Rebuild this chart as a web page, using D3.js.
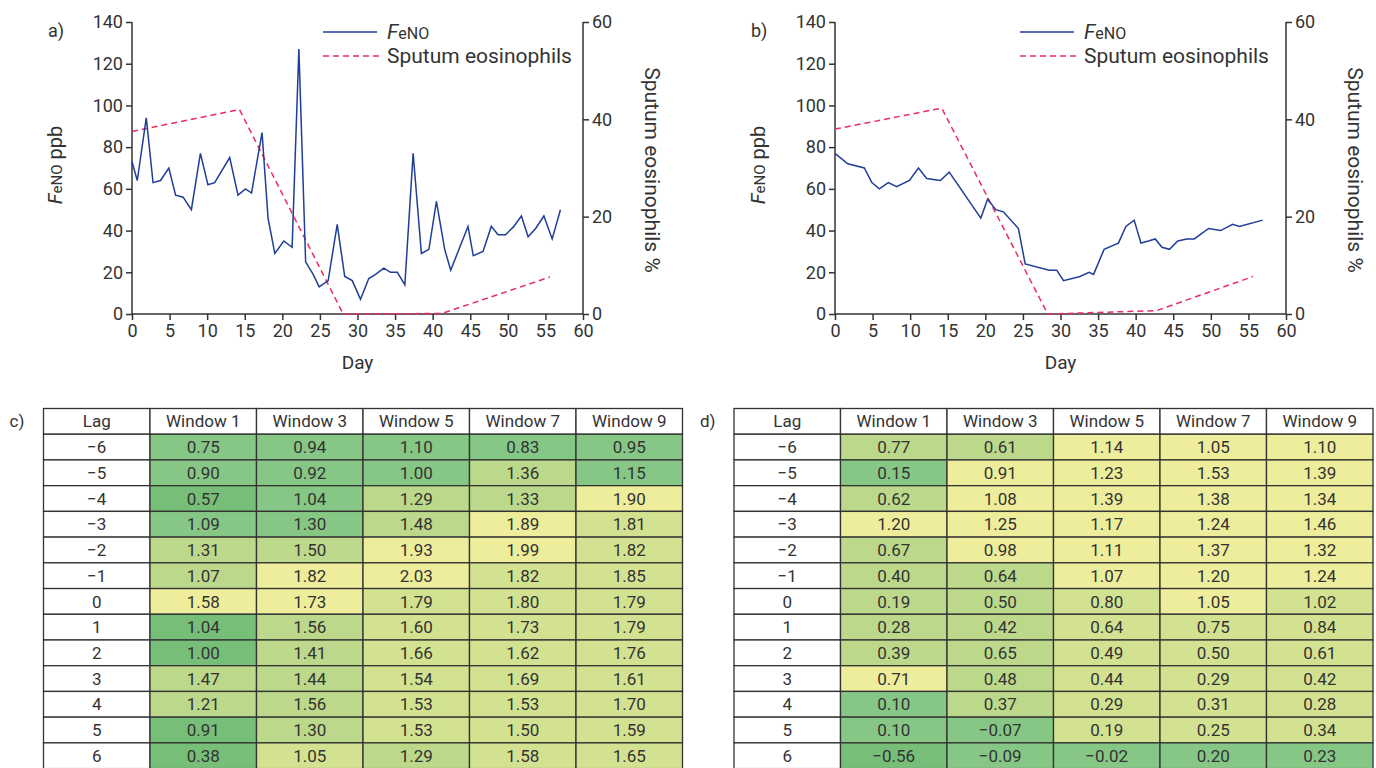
<!DOCTYPE html>
<html lang="en">
<head>
  <meta charset="utf-8">
  <title>FeNO and sputum eosinophils</title>
  <script src="https://cdn.jsdelivr.net/npm/d3@7"></script>
  <style>
    body { margin: 0; background: #fff; }
    text { font-family: Roboto, "Noto Sans", sans-serif; fill: #333; }
  </style>
</head>
<body>
  <svg class="chart" width="1376" height="768"></svg>
  <script>
    // panel a
    var dayA = [0, 0.7, 1.9, 2.8, 3.8, 4.9, 5.8, 6.8, 7.9, 9.1, 10.1, 11, 13, 14.1, 15.1, 15.9, 17.3, 18.1, 19, 20.2,
                21.3, 22.2, 23.1, 24.1, 24.9, 26.1, 27.3, 28.3, 29.3, 30.4, 31.5, 32.4, 33.5, 34.4, 35.3, 36.3, 37.4,
                38.5, 39.5, 40.5, 41.6, 42.4, 44.7, 45.4, 46.7, 47.8, 48.7, 49.7, 50.8, 51.8, 52.7, 53.7, 54.8, 55.9, 57];
    var fenoA = [73, 64, 94, 63, 64, 70, 57, 56, 50, 77, 62, 63, 75, 57, 60, 58, 87, 46, 29, 35,
                 32, 127, 25, 19, 13, 16, 43, 18, 16, 7, 17, 19, 22, 20, 20, 14, 77,
                 29, 31, 54, 31, 21, 42, 28, 30, 42, 38, 38, 42, 47, 37, 41, 47, 36, 50];
    var eosDayA = [0, 14.3, 28.1, 41.2, 55.6];
    var eosA = [37.5, 42, 0, 0.1, 7.6];

    // panel b
    var dayB = [0, 1.7, 3.9, 4.9, 5.9, 7.1, 8.2, 9.9, 11.1, 12.2, 14, 15.2, 19.4, 20.3, 21.4, 22.4, 24.4, 25.3,
                28.5, 29.5, 30.4, 32.6, 33.8, 34.4, 35.8, 37.7, 38.7, 39.8, 40.7, 41.7, 42.6, 43.5, 44.5, 45.6,
                46.8, 47.8, 49.7, 51.3, 52.9, 53.8, 56.9];
    var fenoB = [77, 72, 70, 63, 60, 63, 61, 64, 70, 65, 64, 68, 46, 55, 50, 49, 41, 24,
                 21, 21, 16, 18, 20, 19, 31, 34, 42, 45, 34, 35, 36, 32, 31, 35,
                 36, 36, 41, 40, 43, 42, 45];
    var eosDayB = [0, 14.2, 28.3, 42.8, 55.6];
    var eosB = [38, 42.3, 0, 0.7, 7.7];

    var xTicks = [0, 5, 10, 15, 20, 25, 30, 35, 40, 45, 50, 55, 60];
    var leftTicks = [0, 20, 40, 60, 80, 100, 120, 140];
    var rightTicks = [0, 20, 40, 60];

    // tables c and d
    var lags = ["\u22126", "\u22125", "\u22124", "\u22123", "\u22122", "\u22121", "0", "1", "2", "3", "4", "5", "6"];
    var windows = ["Window 1", "Window 3", "Window 5", "Window 7", "Window 9"];
    var tableC = [
      ["0.75", "0.94", "1.10", "0.83", "0.95"],
      ["0.90", "0.92", "1.00", "1.36", "1.15"],
      ["0.57", "1.04", "1.29", "1.33", "1.90"],
      ["1.09", "1.30", "1.48", "1.89", "1.81"],
      ["1.31", "1.50", "1.93", "1.99", "1.82"],
      ["1.07", "1.82", "2.03", "1.82", "1.85"],
      ["1.58", "1.73", "1.79", "1.80", "1.79"],
      ["1.04", "1.56", "1.60", "1.73", "1.79"],
      ["1.00", "1.41", "1.66", "1.62", "1.76"],
      ["1.47", "1.44", "1.54", "1.69", "1.61"],
      ["1.21", "1.56", "1.53", "1.53", "1.70"],
      ["0.91", "1.30", "1.53", "1.50", "1.59"],
      ["0.38", "1.05", "1.29", "1.58", "1.65"]];
    var shadeC = ["BBBBB", "BBBCB", "ABCCE", "BBCED", "CCEED", "CEEDD", "EEDDD",
                  "ACDDD", "ACDDD", "CCDDD", "CCDDD", "ACDDD", "ADCDD"];
    var tableD = [
      ["0.77", "0.61", "1.14", "1.05", "1.10"],
      ["0.15", "0.91", "1.23", "1.53", "1.39"],
      ["0.62", "1.08", "1.39", "1.38", "1.34"],
      ["1.20", "1.25", "1.17", "1.24", "1.46"],
      ["0.67", "0.98", "1.11", "1.37", "1.32"],
      ["0.40", "0.64", "1.07", "1.20", "1.24"],
      ["0.19", "0.50", "0.80", "1.05", "1.02"],
      ["0.28", "0.42", "0.64", "0.75", "0.84"],
      ["0.39", "0.65", "0.49", "0.50", "0.61"],
      ["0.71", "0.48", "0.44", "0.29", "0.42"],
      ["0.10", "0.37", "0.29", "0.31", "0.28"],
      ["0.10", "\u22120.07", "0.19", "0.25", "0.34"],
      ["\u22120.56", "\u22120.09", "\u22120.02", "0.20", "0.23"]];
    var shadeD = ["CCEEE", "BEEEE", "CEEEE", "EEEEE", "CEEEE", "CCEEE", "CCDED",
                  "CCDDD", "CCDDD", "ECDDD", "BCDDD", "BBDDD", "ABBBB"];

    var svg = d3.select("svg.chart");
    var ink = "#333";

    var shade = d3.scaleOrdinal()
                  .domain(["A", "B", "C", "D", "E"])
                  .range(["#77bf79", "#86c786", "#bcd98b", "#d3e291", "#eeed9b"]);

    function fenoText(sel, small) {
      sel.append("tspan").attr("font-style", "italic").text("F");
      sel.append("tspan").attr("font-size", small).text("eNO");
      return sel;
    }

    function drawPanel(left, label, days, feno, eosDays, eos, legendOffset) {
      var top = 22, bottom = 314, width = 451;
      var x = d3.scaleLinear().domain([0, 60]).range([left, left + width]);
      var y = d3.scaleLinear().domain([0, 140]).range([bottom, top]);
      var y2 = d3.scaleLinear().domain([0, 60]).range([bottom, top]);
      var g = svg.append("g");

      var ax = g.append("g").attr("transform", "translate(0," + bottom + ")")
                .call(d3.axisBottom(x).tickValues(xTicks).tickSize(6).tickPadding(4));
      var al = g.append("g").attr("transform", "translate(" + left + ",0)")
                .call(d3.axisLeft(y).tickValues(leftTicks).tickSize(6).tickPadding(3));
      var ar = g.append("g").attr("transform", "translate(" + (left + width) + ",0)")
                .call(d3.axisRight(y2).tickValues(rightTicks).tickSize(6).tickPadding(3));
      [ax, al, ar].forEach(function(a) {
        a.selectAll("path, line").attr("stroke", ink).attr("stroke-width", 1.5);
        a.selectAll("text").attr("font-size", "18px").attr("fill", ink).style("font-family", "Roboto, sans-serif");
        a.select(".domain").attr("d", a === ax ? "M" + left + ",0H" + (left + width)
                                     : "M0," + bottom + "V" + top);
      });

      g.append("text").attr("x", x(30)).attr("y", 369).attr("text-anchor", "middle")
       .attr("font-size", "19px").text("Day");
      var yl = g.append("text").attr("font-size", "20px").attr("text-anchor", "middle")
       .attr("transform", "translate(" + (left - 70) + ",165) rotate(-90)");
      fenoText(yl, "15px").append("tspan").text(" ppb");
      g.append("text").attr("font-size", "21px").attr("text-anchor", "middle")
       .attr("transform", "translate(" + (left + width + 62) + ",170) rotate(90)")
       .text("Sputum eosinophils %");
      g.append("text").attr("x", left - 84).attr("y", 37).attr("font-size", "18px").text(label);

      var feLine = d3.line().x(function(d, i) { return x(days[i]); }).y(function(d) { return y(d); });
      var eoLine = d3.line().x(function(d, i) { return x(eosDays[i]); }).y(function(d) { return y2(d); });

      g.append("path").datum(eos).attr("d", eoLine).attr("fill", "none")
       .attr("stroke", "#ea2c63").attr("stroke-width", 1.5).attr("stroke-dasharray", "6,4");
      g.append("path").datum(feno).attr("d", feLine).attr("fill", "none")
       .attr("stroke", "#1f3e98").attr("stroke-width", 1.5);

      // legend
      var lx = left + legendOffset;
      g.append("line").attr("x1", lx).attr("x2", lx + 54).attr("y1", 32).attr("y2", 32)
       .attr("stroke", "#1f3e98").attr("stroke-width", 1.5);
      g.append("line").attr("x1", lx).attr("x2", lx + 57).attr("y1", 56).attr("y2", 56)
       .attr("stroke", "#ea2c63").attr("stroke-width", 1.5).attr("stroke-dasharray", "6,4");
      fenoText(g.append("text").attr("x", lx + 64).attr("y", 39).attr("font-size", "21px"), "16px");
      g.append("text").attr("x", lx + 64).attr("y", 63).attr("font-size", "21px").text("Sputum eosinophils");
    }

    drawPanel(132, "a)", dayA, fenoA, eosDayA, eosA, 191);
    drawPanel(835, "b)", dayB, fenoB, eosDayB, eosB, 185);

    function drawTable(left, right, label, values, shades) {
      var cols = ["Lag"].concat(windows);
      var rows = ["head"].concat(lags);
      var x = d3.scaleBand().domain(cols).range([left, right]);
      var y = d3.scaleBand().domain(rows).range([408.5, 408.5 + 26 + 13 * 25.7]);
      var g = svg.append("g");

      rows.forEach(function(r, ri) {
        cols.forEach(function(c, ci) {
          var fill = "#fff", txt;
          if (ri === 0) txt = c;
          else if (ci === 0) txt = r;
          else { fill = shade(shades[ri - 1][ci - 1]); txt = values[ri - 1][ci - 1]; }
          g.append("rect").attr("x", x(c)).attr("y", y(r))
           .attr("width", x.bandwidth()).attr("height", y.bandwidth())
           .attr("fill", fill).attr("stroke", ink).attr("stroke-width", 1.3);
          g.append("text").attr("x", x(c) + x.bandwidth() / 2).attr("y", y(r) + y.bandwidth() / 2)
           .attr("dy", "0.36em").attr("text-anchor", "middle").attr("font-size", "17px").text(txt);
        });
      });
      g.append("text").attr("x", left - 34).attr("y", 427).attr("font-size", "17px").text(label);
    }

    drawTable(43.5, 682.5, "c)", tableC, shadeC);
    drawTable(734, 1373, "d)", tableD, shadeD);
  </script>
</body>
</html>
